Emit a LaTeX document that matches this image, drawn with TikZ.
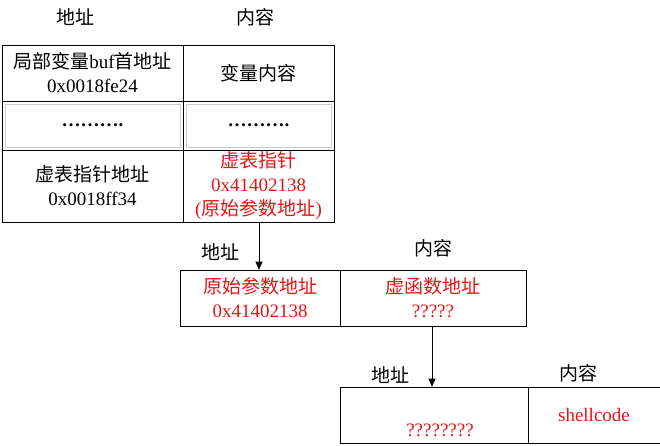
\documentclass[tikz,border=0pt]{standalone}
\usepackage{fontspec}
\setmainfont{Liberation Serif}
\newfontfamily\cjk{Noto Sans CJK SC}
\usepackage{tikz}
\usetikzlibrary{positioning, arrows.meta}
\definecolor{tbRed}{RGB}{230, 20, 20}
\tikzset{
    base/.style={
        font=\fontsize{19}{24}\selectfont,
        align=center
    },
    cell/.style={
        base,
        rectangle,
        draw=black,
        semithick,
        inner sep=0pt
    },
    head/.style={
        base,
        inner sep=0pt
    },
    hot/.style={
        text=tbRed
    },
    flow/.style={
        -{Triangle[length=8pt,width=7pt]},
        semithick
    }
}
\newcommand{\zh}[1]{{\cjk #1}}

\begin{document}
\begin{tikzpicture}[x=1pt, y=-1pt]
  \useasboundingbox (0,0) rectangle (660,445);

  % Table 1
  \node[head] (h1a) at (75,17) {\zh{地址}};
  \node[head] (h1b) at (255,17) {\zh{内容}};
  \node[cell, minimum width=181pt, minimum height=56pt] (a1) at (92.5,73) {\zh{局部变量}buf\zh{首地址}\\0x0018fe24};
  \node[cell, minimum width=151pt, minimum height=56pt] (b1) at (258.5,73) {\zh{变量内容}};
  \node[cell, minimum width=181pt, minimum height=49pt] (a2) at (92.5,125.5) {\textbf{\dots\dots\dots.}};
  \node[cell, minimum width=151pt, minimum height=49pt] (b2) at (258.5,125.5) {\textbf{\dots\dots\dots.}};
  \draw[gray!40] (5,104) rectangle (180,147) (186,104) rectangle (331,147);
  \node[cell, minimum width=181pt, minimum height=72pt] (a3) at (92.5,186) {\zh{虚表指针地址}\\0x0018ff34};
  \node[cell, hot, minimum width=151pt, minimum height=72pt] (b3) at (258.5,186) {\zh{虚表指针}\\0x41402138\\(\zh{原始参数地址})};

  % Table 2
  \node[head] (h2a) at (220,252) {\zh{地址}};
  \node[head] (h2b) at (433,248) {\zh{内容}};
  \node[cell, hot, minimum width=160pt, minimum height=56pt] (c1) at (260,298) {\zh{原始参数地址}\\0x41402138};
  \node[cell, hot, minimum width=186pt, minimum height=56pt] (d1) at (433,298) {\zh{虚函数地址}\\?????};

  % Table 3
  \node[head] (h3a) at (390,375) {\zh{地址}};
  \node[head] (h3b) at (578,373) {\zh{内容}};
  \node[cell, minimum width=188pt, minimum height=56pt] (e1) at (434,415) {};
  \node[head, hot] (e1t) at (440,430) {????????};
  \node[cell, hot, minimum width=132pt, minimum height=56pt] (f1) at (594,415) {shellcode};

  % Pointers
  \draw[flow] (b3.south -| 259,0) -- (c1.north -| 259,0);
  \draw[flow] (d1.south -| 432,0) -- (e1.north -| 432,0);
\end{tikzpicture}
\end{document}
